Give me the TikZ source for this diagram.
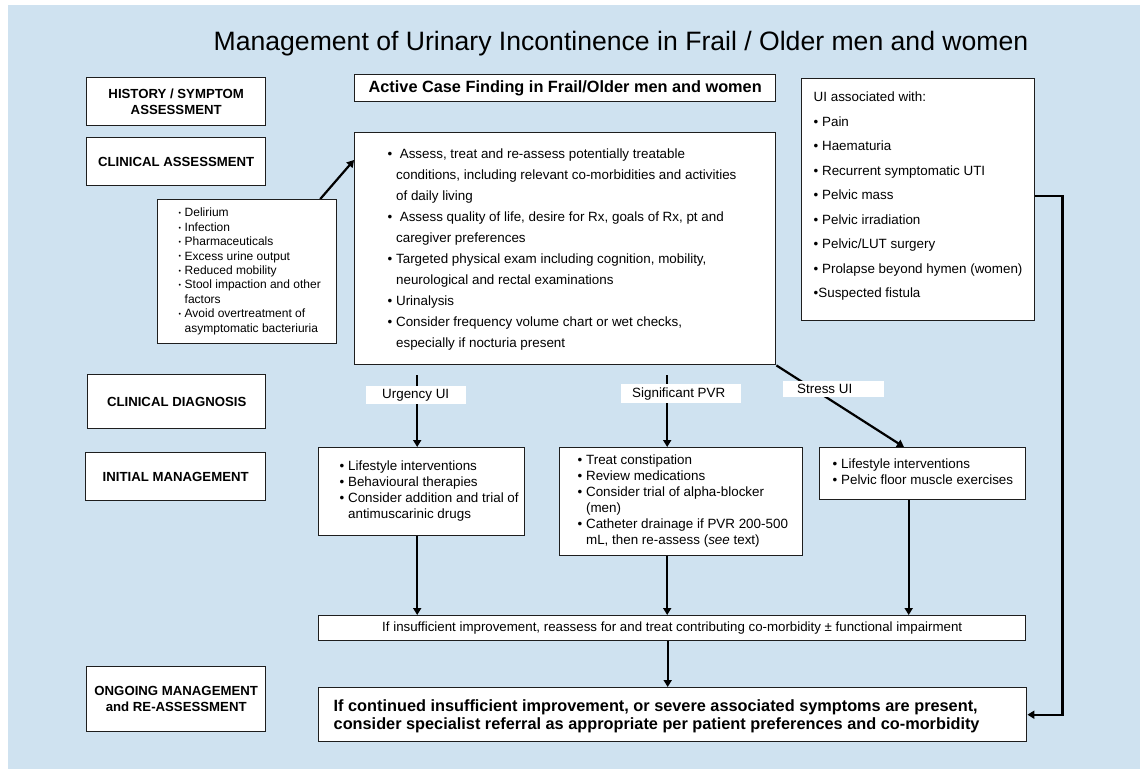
\documentclass[tikz,border=0pt]{standalone}
\usepackage{fontspec}
\setmainfont{Liberation Sans}
\usetikzlibrary{arrows.meta,calc,backgrounds}
\definecolor{bgblue}{RGB}{207,226,240}
\definecolor{boxline}{RGB}{30,30,30}
\newcommand{\lbox}[4][0pt]{\raisebox{#1}[\height][\depth]{\makebox[#2][l]{\hspace*{#3}\begin{tabular}{@{}l@{}}#4\end{tabular}}}}
\newcommand{\ind}{\phantom{•\ }}
\newcommand{\smbul}{\makebox[6pt][l]{\raisebox{1.2pt}{\fontsize{7}{7}\selectfont •}}}
\begin{document}
\begin{tikzpicture}[x=1pt,y=-1pt,
  box/.style={draw=boxline, line width=1.4pt, fill=white, inner sep=0pt, anchor=north west},
  hdr/.style={box, font=\bfseries\fontsize{13.2}{16}\selectfont, align=center},
  body/.style={font=\fontsize{13.4}{16}\selectfont},
  lab/.style={fill=white, inner sep=0pt, anchor=north west, font=\fontsize{13.4}{16}\selectfont},
  conn/.style={line width=2.2pt, -{Triangle[length=7pt,width=8pt]}},
]
\useasboundingbox (0,0) rectangle (1140,769);
\begin{scope}[on background layer]
  \fill[bgblue] (8,5) rectangle (1140,769);
\end{scope}

% title
\node (title) at (621,44) {\fontsize{26.6}{30}\selectfont Management of Urinary Incontinence in Frail / Older men and women};

% left stage labels
\node[hdr, minimum width=179pt, minimum height=48pt] (hist) at (86,77) {HISTORY / SYMPTOM\\ASSESSMENT};
\node[hdr, minimum width=179pt, minimum height=48pt] (clin) at (86,137) {CLINICAL ASSESSMENT};
\node[hdr, minimum width=178pt, minimum height=54pt] (diag) at (87,374) {CLINICAL DIAGNOSIS};
\node[hdr, minimum width=180pt, minimum height=48pt] (init) at (85,452) {INITIAL MANAGEMENT};
\node[hdr, minimum width=179pt, minimum height=65pt] (ong) at (86,666) {ONGOING MANAGEMENT\\and RE-ASSESSMENT};

% top boxes
\node[box, minimum width=421pt, minimum height=27pt, font=\bfseries\fontsize{16.3}{18}\selectfont] (active) at (354,74) {Active Case Finding in Frail/Older men and women};

\node[box, minimum height=232pt, font=\fontsize{13.4}{21}\selectfont] (big) at (354,132) {\lbox{421pt}{33pt}{%
•\ \ Assess, treat and re-assess potentially treatable\\
\ind conditions, including relevant co-morbidities and activities\\
\ind of daily living\\
•\ \ Assess quality of life, desire for Rx, goals of Rx, pt and\\
\ind caregiver preferences\\
• Targeted physical exam including cognition, mobility,\\
\ind neurological and rectal examinations\\
• Urinalysis\\
• Consider frequency volume chart or wet checks,\\
\ind especially if nocturia present}};

\node[box, minimum height=144pt, font=\fontsize{12}{14.4}\selectfont] (deli) at (157,199) {\lbox{179pt}{21pt}{%
\smbul Delirium\\
\smbul Infection\\
\smbul Pharmaceuticals\\
\smbul Excess urine output\\
\smbul Reduced mobility\\
\smbul Stool impaction and other\\
\hspace*{6pt}factors\\
\smbul Avoid overtreatment of\\
\hspace*{6pt}asymptomatic bacteriuria}};

\node[box, minimum height=242pt, font=\fontsize{13.4}{24.5}\selectfont] (ui) at (801,78) {\lbox[5pt]{233pt}{12pt}{%
UI associated with:\\
•\ Pain\\
•\ Haematuria\\
•\ Recurrent symptomatic UTI\\
•\ Pelvic mass\\
•\ Pelvic irradiation\\
•\ Pelvic/LUT surgery\\
•\ Prolapse beyond hymen (women)\\
•Suspected fistula}};

% initial management boxes
\node[box, minimum height=88pt, body] (urg) at (318,447) {\lbox{206pt}{21pt}{%
• Lifestyle interventions\\
• Behavioural therapies\\
• Consider addition and trial of\\
\ind antimuscarinic drugs}};

\node[box, minimum height=108pt, body] (pvr) at (559,447) {\lbox{243pt}{18pt}{%
• Treat constipation\\
• Review medications\\
• Consider trial of alpha-blocker\\
\ind (men)\\
• Catheter drainage if PVR 200-500\\
\ind mL, then re-assess (\textit{see} text)}};

\node[box, minimum height=52pt, body] (str) at (819,447) {\lbox{206pt}{13pt}{%
• Lifestyle interventions\\
• Pelvic floor muscle exercises}};

% lower boxes
\node[box, minimum width=707pt, minimum height=25pt, font=\fontsize{13.3}{16}\selectfont] (insuf) at (318,615) {If insufficient improvement, reassess for and treat contributing co-morbidity ± functional impairment};

\node[box, minimum height=54pt, font=\bfseries\fontsize{16.3}{18.8}\selectfont] (final) at (318,687) {\lbox[-2pt]{708pt}{15pt}{%
If continued insufficient improvement, or severe associated symptoms are present,\\
consider specialist referral as appropriate per patient preferences and co-morbidity}};

% diagnosis labels
\node[lab, minimum height=18pt] (urgL) at (366,386) {\makebox[100pt][l]{\hspace*{16pt}Urgency UI}};
\node[lab, minimum height=19pt] (pvrL) at (621,384) {\makebox[120pt][l]{\hspace*{11pt}Significant PVR}};
\node[lab, minimum height=16pt] (strL) at (783,381) {\makebox[101pt][l]{\hspace*{14pt}Stress UI}};

% connectors
\begin{scope}[on background layer]
  \draw[conn] ($(deli.north west)!0.905!(deli.north east)$) -- ($(big.north west)+(0,28)$);
  \draw[conn, shorten <=10pt] ([xshift=1pt]urgL.north |- big.south) -- ([xshift=1pt]urgL.north |- urg.north);
  \draw[conn, shorten <=10pt] ([xshift=-14pt]pvr.north |- big.south) -- ([xshift=-14pt]pvr.north);
  \draw[conn] (big.south east) -- ([xshift=85pt]str.north west);
  \draw[conn] ([xshift=1pt]urgL.north |- urg.south) -- ([xshift=1pt]urgL.north |- insuf.north);
  \draw[conn] ([xshift=-14pt]pvr.south) -- ([xshift=-14pt]pvr.south |- insuf.north);
  \draw[conn] ([xshift=-14pt]str.south) -- ([xshift=-14pt]str.south |- insuf.north);
  \draw[conn] ([xshift=-4.5pt]insuf.south) -- ([xshift=-4.5pt]insuf.south |- final.north);
  \draw[conn] ([yshift=4pt]ui.east) -- ++(27,0) |- (final.east);
\end{scope}
\end{tikzpicture}
\end{document}
